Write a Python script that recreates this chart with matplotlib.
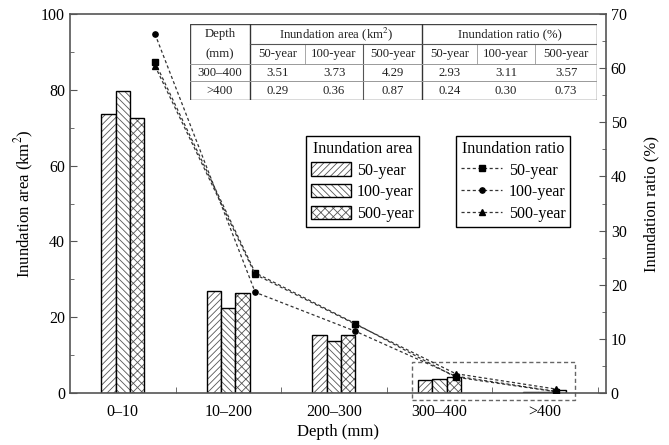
import matplotlib
matplotlib.use("Agg")
import matplotlib.pyplot as plt
import numpy as np
from matplotlib.patches import Patch, Rectangle
from matplotlib.legend_handler import HandlerTuple

plt.rcParams['font.family'] = ['Liberation Serif', 'DejaVu Serif']
plt.rcParams['mathtext.fontset'] = 'stix'
plt.rcParams['hatch.linewidth'] = 0.6

# ---------------- data ----------------
categories = ['0–10', '10–200', '200–300', '300–400', '>400']
area_50 = [73.5, 27.0, 15.3, 3.51, 0.29]
area_100 = [79.7, 22.3, 13.7, 3.73, 0.36]
area_500 = [72.6, 26.3, 15.3, 4.29, 0.87]
ratio_50 = [61.1, 22.2, 12.8, 2.93, 0.24]
ratio_100 = [66.3, 18.6, 11.4, 3.11, 0.30]
ratio_500 = [60.4, 21.9, 12.7, 3.57, 0.73]
series_labels = ['50-year', '100-year', '500-year']

table_depth = ['300–400', '>400']
table_area = [[3.51, 3.73, 4.29], [0.29, 0.36, 0.87]]
table_ratio = [[2.93, 3.11, 3.57], [0.24, 0.30, 0.73]]

# --------------- figure ---------------
W, H = 669, 445
fig = plt.figure(figsize=(W / 100, H / 100), dpi=100)
rect = [70 / W, 1 - 393 / H, 536 / W, 379 / H]
ax = fig.add_axes(rect)
axr = fig.add_axes(rect, facecolor='none')

spine_col = '#555555'
hatch_col = '#555555'
x = np.arange(len(categories))
bw = 0.137
hatches = ['/////', '\\\\\\\\\\', 'xxxx']
areas = [area_50, area_100, area_500]
for k, (vals, h) in enumerate(zip(areas, hatches)):
    pos = x + (k - 1) * bw
    ax.bar(pos, vals, bw, facecolor='white', edgecolor=hatch_col, hatch=h, linewidth=0)
    ax.bar(pos, vals, bw, facecolor='none', edgecolor='black', linewidth=1.0)

ax.set_xlim(-0.5, 4.58)
ax.set_ylim(0, 100)
ax.set_xticks(x)
ax.set_xticklabels(categories, fontsize=11.5)
ax.set_xticks(list(x + 0.5), minor=True)
ax.tick_params(axis='x', which='major', length=0, pad=8)
ax.tick_params(axis='x', which='minor', direction='in', length=4, color=spine_col)
ax.set_yticks(np.arange(0, 101, 20))
ax.set_yticks(np.arange(10, 100, 20), minor=True)
ax.tick_params(axis='y', which='major', direction='in', length=5, labelsize=11.5, color=spine_col)
ax.tick_params(axis='y', which='minor', direction='in', length=3, color=spine_col)
ax.set_ylabel('Inundation area (km$^2$)', fontsize=12, labelpad=4)
ax.set_xlabel('Depth (mm)', fontsize=12, labelpad=3)
for s in ax.spines.values():
    s.set_color(spine_col)
    s.set_linewidth(1.2)

# ratio lines on the secondary axes
axr.set_xlim(-0.848, 4.5)
axr.set_ylim(0, 70)
axr.xaxis.set_visible(False)
axr.yaxis.tick_right()
axr.yaxis.set_label_position('right')
axr.set_yticks(np.arange(0, 71, 10))
axr.set_yticks(np.arange(5, 70, 10), minor=True)
axr.tick_params(axis='y', which='major', direction='in', length=5, labelsize=11.5, color=spine_col)
axr.tick_params(axis='y', which='minor', direction='in', length=3, color=spine_col)
axr.set_ylabel('Inundation ratio (%)', fontsize=12, labelpad=12)
for s in axr.spines.values():
    s.set_visible(False)
markers = ['s', 'o', '^']
msizes = [4.5, 3.8, 4.5]
ratios = [ratio_50, ratio_100, ratio_500]
line_handles = []
xr = np.arange(len(categories))
for vals, m, ms, lab in zip(ratios, markers, msizes, series_labels):
    ln, = axr.plot(xr, vals, color='#333333', linestyle=(0, (2.5, 2)), linewidth=0.9,
                   marker=m, markersize=ms, markerfacecolor='black', markeredgecolor='black',
                   label=lab)
    line_handles.append(ln)

# dashed highlight box
ax.add_patch(Rectangle((0.6375, -0.0185), 0.3045, 0.1011, transform=ax.transAxes,
                       fill=False, edgecolor='#666666', linestyle=(0, (3, 2)),
                       linewidth=1.0, clip_on=False))

# ---------------- legends ----------------
area_handles = []
for h in hatches:
    p1 = Patch(facecolor='white', edgecolor=hatch_col, hatch=h, linewidth=0)
    p2 = Patch(facecolor='none', edgecolor='black', linewidth=1.0)
    area_handles.append((p1, p2))
leg1 = fig.legend(area_handles, series_labels, title='Inundation area',
                  handler_map={tuple: HandlerTuple(ndivide=1, pad=0)},
                  loc='upper left', bbox_to_anchor=(306 / W, 1 - 136 / H),
                  fontsize=11.5, title_fontsize=11.5, fancybox=False, framealpha=1,
                  edgecolor='black', handlelength=2.5, handleheight=0.9,
                  labelspacing=0.35, borderpad=0.3, handletextpad=0.4, borderaxespad=0)
leg1.get_frame().set_linewidth(1.0)
leg2 = fig.legend(line_handles, series_labels, title='Inundation ratio',
                  loc='upper left', bbox_to_anchor=(456 / W, 1 - 136 / H),
                  fontsize=11.5, title_fontsize=11.5, fancybox=False, framealpha=1,
                  edgecolor='black', handlelength=2.6, handleheight=0.9,
                  labelspacing=0.35, borderpad=0.3, handletextpad=0.4, borderaxespad=0)
leg2.get_frame().set_linewidth(1.0)

# ---------------- table ----------------
tx0, tx1, ty0, ty1 = 190, 597, 24.3, 100
tab = fig.add_axes([tx0 / W, 1 - ty1 / H, (tx1 - tx0) / W, (ty1 - ty0) / H])
tab.set_xlim(tx0, tx1)
tab.set_ylim(ty1, ty0)
tab.axis('off')
tab.add_patch(Rectangle((tx0, ty0), tx1 - tx0, ty1 - ty0, facecolor='white',
                        edgecolor='#444444', linewidth=1.0))
cols = [190, 250, 305, 363, 422, 477, 535, 597]
rows = [24.3, 44, 64.3, 81, 100]
lc = '#555555'
tab.plot([250, 250], [ty0, ty1], color='#333333', lw=1.0)
tab.plot([422, 422], [ty0, ty1], color='#333333', lw=1.0)
tab.plot([363, 363], [rows[1], ty1], color='#555555', lw=0.8)
for cx in [305, 477, 535]:
    tab.plot([cx, cx], [rows[1], rows[2]], color='#999999', lw=0.6)
tab.plot([250, 597], [rows[1], rows[1]], color=lc, lw=0.8)
tab.plot([190, 597], [rows[2], rows[2]], color='#999999', lw=0.7)
tab.plot([190, 597], [rows[3], rows[3]], color='#999999', lw=0.7)
tfs = 9.2
tcol = '#222222'
tab.text(220, (rows[0] + rows[1]) / 2, 'Depth', ha='center', va='center', fontsize=tfs, color=tcol)
tab.text(220, (rows[1] + rows[2]) / 2, '(mm)', ha='center', va='center', fontsize=tfs, color=tcol)
tab.text(336, (rows[0] + rows[1]) / 2, 'Inundation area (km$^2$)', ha='center', va='center',
         fontsize=tfs, color=tcol)
tab.text(509.5, (rows[0] + rows[1]) / 2, 'Inundation ratio (%)', ha='center', va='center',
         fontsize=tfs, color=tcol)
centers = [(cols[i] + cols[i + 1]) / 2 for i in range(7)]
for j in range(3):
    tab.text(centers[1 + j], (rows[1] + rows[2]) / 2, series_labels[j], ha='center', va='center',
             fontsize=tfs, color=tcol)
    tab.text(centers[4 + j], (rows[1] + rows[2]) / 2, series_labels[j], ha='center', va='center',
             fontsize=tfs, color=tcol)
for r in range(2):
    yc = (rows[2 + r] + rows[3 + r]) / 2
    tab.text(centers[0], yc, table_depth[r], ha='center', va='center', fontsize=tfs, color=tcol)
    for j in range(3):
        tab.text(centers[1 + j], yc, f'{table_area[r][j]:.2f}', ha='center', va='center',
                 fontsize=tfs, color=tcol)
        tab.text(centers[4 + j], yc, f'{table_ratio[r][j]:.2f}', ha='center', va='center',
                 fontsize=tfs, color=tcol)

fig.savefig('out.png', dpi=100)
